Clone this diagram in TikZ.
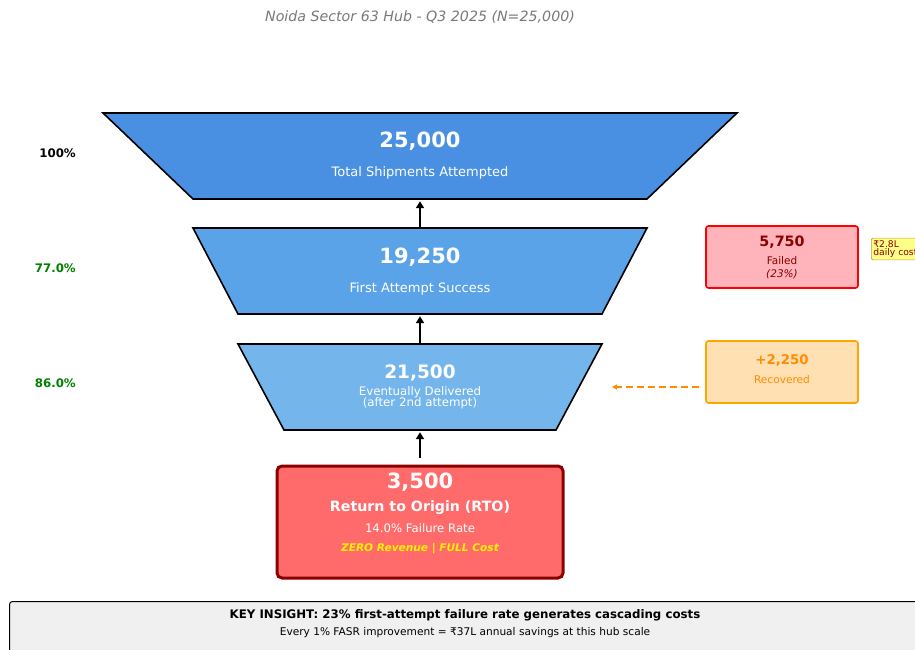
\documentclass[tikz,border=0pt]{standalone}
\usepackage{fontspec}
\setmainfont{DejaVu Sans}
\usetikzlibrary{arrows.meta}
\definecolor{tierA}{HTML}{4A90E2}
\definecolor{tierB}{HTML}{5BA3E8}
\definecolor{tierC}{HTML}{74B5EC}
\definecolor{rtofill}{HTML}{FF6B6B}
\definecolor{rtoedge}{HTML}{8B0000}
\definecolor{failfill}{HTML}{FFB3BA}
\definecolor{recfill}{HTML}{FFE0B2}
\definecolor{recedge}{HTML}{FFA500}
\definecolor{reclabel}{HTML}{FF8C00}
\definecolor{notefill}{HTML}{FFFF88}
\definecolor{noteedge}{HTML}{B8A040}
\definecolor{pctgreen}{HTML}{008000}
\definecolor{panel}{HTML}{F0F0F0}
\newcommand{\fs}[1]{\fontsize{#1}{\fpeval{#1*1.2}}\selectfont}
\tikzset{
  tier/.style={draw=black, line width=1.6pt, line join=miter},
  tierlabel/.style={inner sep=0pt, minimum width=200pt, minimum height=86pt, align=center, text=white},
  flowarrow/.style={line width=2.4pt, -{Triangle[length=7pt,width=8pt]}},
  pct/.style={font=\bfseries\fs{11.8}, anchor=east, inner sep=0pt},
  sidebox/.style={rounded corners=2.5pt, line width=1.6pt, minimum width=152pt, minimum height=62pt, inner sep=0pt, align=center},
}
\begin{document}
\begin{tikzpicture}[x=1pt, y=-1pt]
\useasboundingbox (0,0) rectangle (915,650);
\fill[white] (0,0) rectangle (915,650);

% title
\node[text=gray!95!black, font=\itshape\fs{14.2}] (title) at (420,17) {Noida Sector 63 Hub - Q3 2025 (N=25,000)};

% funnel tiers
\filldraw[tier, fill=tierA] (103,113) -- (737,113) -- (647,199) -- (193,199) -- cycle;
\filldraw[tier, fill=tierB] (193,228) -- (647,228) -- (602,314) -- (238,314) -- cycle;
\filldraw[tier, fill=tierC] (238,344) -- (602,344) -- (556,430) -- (284,430) -- cycle;

\node[tierlabel] (t1) at (420,156) {};
\node[tierlabel] (t2) at (420,271) {};
\node[tierlabel] (t3) at (420,387) {};

\node[text=white, font=\bfseries\fs{21}] (n1) at (420,141.5) {25,000};
\node[text=white, font=\fs{13}] (l1) at (420,173) {Total Shipments Attempted};
\node[text=white, font=\bfseries\fs{21}] (n2) at (420,257.5) {19,250};
\node[text=white, font=\fs{13}] (l2) at (420,289) {First Attempt Success};
\node[text=white, font=\bfseries\fs{18.5}] (n3) at (420,373) {21,500};
\node[text=white, font=\fs{11.8}, align=center, inner sep=0pt] (l3) at (420,398) {Eventually Delivered\\[-3.5pt](after 2nd attempt)};

% return-to-origin box
\node[draw=rtoedge, fill=rtofill, line width=3pt, rounded corners=5pt,
      minimum width=286pt, minimum height=112pt, inner sep=0pt] (rto) at (420,522) {};
\node[text=white, font=\bfseries\fs{21}] (rn) at (420,482) {3,500};
\node[text=white, font=\bfseries\fs{14.2}] (rl) at (420,508) {Return to Origin (RTO)};
\node[text=white, font=\fs{11.7}] (rr) at (420,528) {14.0\% Failure Rate};
\node[text=yellow, font=\bfseries\itshape\fs{10.6}] (rz) at (420,549) {ZERO Revenue | FULL Cost};

% upward flow arrows
\draw[flowarrow] (t2.north) -- ([yshift=-2pt]t1.south);
\draw[flowarrow] (t3.north) -- ([yshift=-2pt]t2.south);
\draw[flowarrow] ([yshift=7pt]rto.north) -- ([yshift=-2pt]t3.south);

% percentage labels
\node[pct, text=black] (p1) at (76,153) {100\%};
\node[pct, text=pctgreen] (p2) at (76,268.5) {77.0\%};
\node[pct, text=pctgreen] (p3) at (76,383.5) {86.0\%};

% failed callout
\node[sidebox, draw=red, fill=failfill] (fail) at (782,257) {};
\node[text=rtoedge, font=\bfseries\fs{14.3}] at (782,242) {5,750};
\node[text=rtoedge, font=\fs{10.5}] at (782,260.5) {Failed};
\node[text=rtoedge, font=\itshape\fs{10.5}] at (782,274.5) {(23\%)};

% cost note
\node[draw=noteedge, fill=notefill, rounded corners=1.5pt, line width=0.6pt,
      anchor=west, inner xsep=2pt, inner ysep=2.5pt, align=left,
      text=rtoedge, font=\fs{9.2}] (note) at (871,249) {₹2.8L\\[-3pt]daily cost};

% recovered callout
\node[sidebox, draw=recedge, fill=recfill] (rec) at (782,372) {};
\node[text=reclabel, font=\bfseries\fs{13.3}] at (782,360.5) {+2,250};
\node[text=reclabel, font=\fs{10.6}] at (782,379.5) {Recovered};
\coordinate (recend) at (612,387);
\draw[reclabel, line width=1.6pt, dash pattern=on 7pt off 4pt, -{Triangle[length=5pt,width=5pt]}]
  (rec.west |- recend) ++(-6,0) -- (recend);

% insight panel
\node[draw=black, fill=panel, rounded corners=3pt, line width=1pt, anchor=north west,
      minimum width=930pt, minimum height=60pt, inner sep=0pt] (panel) at (9,601) {};
\node[font=\bfseries\fs{11.8}] (k1) at (465,615) {KEY INSIGHT: 23\% first-attempt failure rate generates cascading costs};
\node[font=\fs{10.6}] (k2) at (465,632.5) {Every 1\% FASR improvement = ₹37L annual savings at this hub scale};
\end{tikzpicture}
\end{document}
